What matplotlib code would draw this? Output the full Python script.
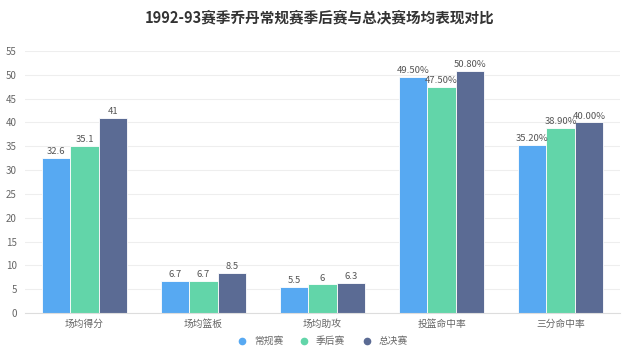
import matplotlib
matplotlib.use("Agg")
import matplotlib.pyplot as plt
import numpy as np

plt.rcParams['font.family'] = ['Noto Sans CJK SC', 'DejaVu Sans']

categories = ['场均得分', '场均篮板', '场均助攻', '投篮命中率', '三分命中率']
series_names = ['常规赛', '季后赛', '总决赛']
regular = [32.6, 6.7, 5.5, 49.5, 35.2]
playoffs = [35.1, 6.7, 6.0, 47.5, 38.9]
finals = [41.0, 8.5, 6.3, 50.8, 40.0]
is_percent = [False, False, False, True, True]
colors = ['#57a9f2', '#62d5a9', '#5b6b94']

fig = plt.figure(figsize=(6.4, 3.58), dpi=100)
ax = fig.add_axes([0.039, 0.1257, 0.930, 0.7318])

x = np.arange(len(categories))
w = 0.24
for i, (vals, name, c) in enumerate(zip([regular, playoffs, finals], series_names, colors)):
    pos = x + (i - 1) * w
    ax.bar(pos, vals, width=w, color=c, edgecolor='white', linewidth=0.6, label=name, zorder=3)
    for p, v, pct in zip(pos, vals, is_percent):
        if pct:
            txt = f'{v:.2f}%'
        else:
            txt = f'{v:g}'
        ax.text(p, v + 0.4, txt, ha='center', va='bottom', fontsize=6.8, color='#555555', zorder=4)

ax.set_xlim(-0.5, len(categories) - 0.5)
ax.set_ylim(0, 55)
ax.set_yticks(np.arange(0, 56, 5))
ax.set_xticks(x)
ax.set_xticklabels(categories)
ax.tick_params(axis='both', length=0, labelsize=7, colors='#666666')
ax.tick_params(axis='x', pad=4)
ax.tick_params(axis='y', pad=6)
ax.grid(axis='y', color='#eeeeee', linewidth=0.8, zorder=0)
for s in ['top', 'right', 'left']:
    ax.spines[s].set_visible(False)
ax.spines['bottom'].set_color('#dddddd')
ax.spines['bottom'].set_zorder(5)

fig.suptitle('1992-93赛季乔丹常规赛季后赛与总决赛场均表现对比', y=0.975, fontsize=10.5,
             fontweight='bold', color='#333333')

from matplotlib.lines import Line2D
handles = [Line2D([], [], marker='o', linestyle='', markersize=4.5, color=c) for c in colors]
fig.legend(handles, series_names, loc='center', bbox_to_anchor=(0.5, 0.047), ncol=3,
           frameon=False, fontsize=7, handletextpad=0.2, columnspacing=1.2,
           labelcolor='#666666')

fig.savefig('out.png', dpi=100)
